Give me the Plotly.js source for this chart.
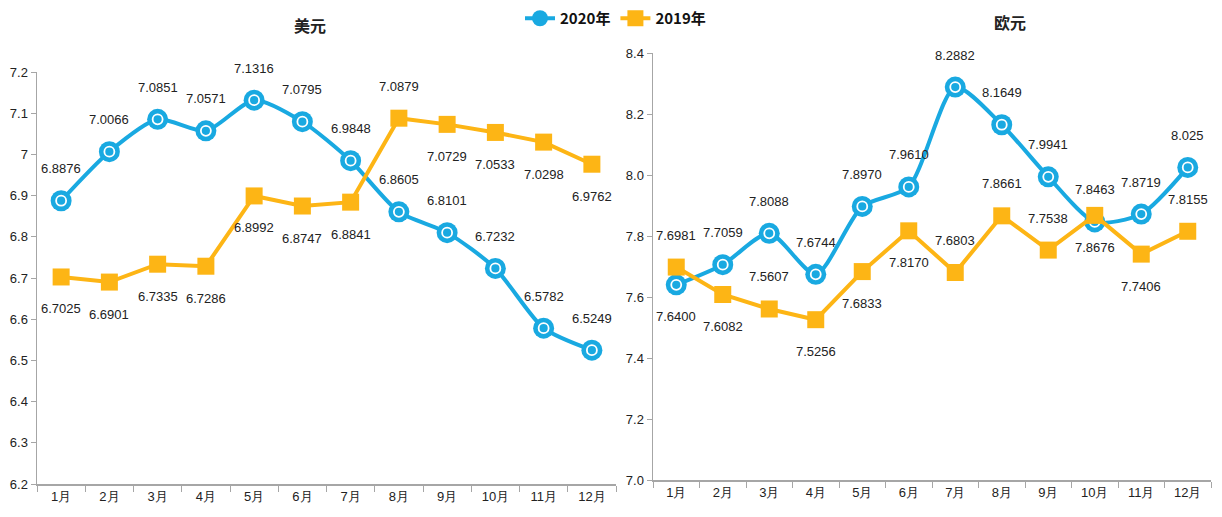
<!DOCTYPE html>
<html><head><meta charset="utf-8">
<script src="https://cdn.plot.ly/plotly-3.0.1.min.js"></script>
<style>html,body{margin:0;padding:0;background:#fff}#c{width:1222px;height:517px}</style>
</head><body><div id="c"></div>
<script>
const months = ['1月','2月','3月','4月','5月','6月','7月','8月','9月','10月','11月','12月'];
const usd2020 = [6.8876,7.0066,7.0851,7.0571,7.1316,7.0795,6.9848,6.8605,6.8101,6.7232,6.5782,6.5249];
const usd2019 = [6.7025,6.6901,6.7335,6.7286,6.8992,6.8747,6.8841,7.0879,7.0729,7.0533,7.0298,6.9762];
const eur2020 = [7.6400,7.7059,7.8088,7.6744,7.8970,7.9610,8.2882,8.1649,7.9941,7.8463,7.8719,8.025];
const eur2019 = [7.6981,7.6082,7.5607,7.5256,7.6833,7.8170,7.6803,7.8661,7.7538,7.8676,7.7406,7.8155];
const usd2020Labels = ['6.8876','7.0066','7.0851','7.0571','7.1316','7.0795','6.9848','6.8605','6.8101','6.7232','6.5782','6.5249'];
const usd2019Labels = ['6.7025','6.6901','6.7335','6.7286','6.8992','6.8747','6.8841','7.0879','7.0729','7.0533','7.0298','6.9762'];
const eur2020Labels = ['7.6400','7.7059','7.8088','7.6744','7.8970','7.9610','8.2882','8.1649','7.9941','7.8463','7.8719','8.025'];
const eur2019Labels = ['7.6981','7.6082','7.5607','7.5256','7.6833','7.8170','7.6803','7.8661','7.7538','7.8676','7.7406','7.8155'];
// label side: 1 = above, -1 = below
const usd2020Side = [1,1,1,1,1,1,1,1,1,1,1,1];
const usd2019Side = [-1,-1,-1,-1,-1,-1,-1,1,-1,-1,-1,-1];
const eur2020Side = [-1,1,1,1,1,1,1,1,1,1,1,1];
const eur2019Side = [1,-1,1,-1,-1,-1,1,1,1,-1,-1,1];

const BLUE = '#19A9E1', ORANGE = '#FDB515';
const FONT = '"Liberation Sans",Arial,sans-serif';

function series(x, y, name, color, ax, isBlue, showLeg){
  const xa = ax===1?'x':'x2', ya = ax===1?'y':'y2';
  const out = [];
  if(isBlue){
    out.push({x:x,y:y,name:name,type:'scatter',mode:'lines+markers',xaxis:xa,yaxis:ya,
      line:{color:color,width:4,shape:'spline',smoothing:0.7},
      marker:{symbol:'circle',size:21,color:color},showlegend:showLeg,legendgroup:name,hoverinfo:'skip'});
    out.push({x:x,y:y,type:'scatter',mode:'markers',xaxis:xa,yaxis:ya,
      marker:{symbol:'circle-open',size:10,color:'#fff',line:{color:'#fff',width:1.8}},showlegend:false,legendgroup:name,hoverinfo:'skip'});
  } else {
    out.push({x:x,y:y,name:name,type:'scatter',mode:'lines+markers',xaxis:xa,yaxis:ya,
      line:{color:color,width:4},
      marker:{symbol:'square',size:17,color:color},showlegend:showLeg,legendgroup:name,hoverinfo:'skip'});
  }
  return out;
}

const data = [].concat(
  series(months, usd2020, '2020年', BLUE, 1, true, true),
  series(months, usd2019, '2019年', ORANGE, 1, false, true),
  series(months, eur2020, '2020年', BLUE, 2, true, false),
  series(months, eur2019, '2019年', ORANGE, 2, false, false)
);

const annotations = [];
function addLabels(x, y, labels, side, ax){
  for(let i=0;i<x.length;i++){
    annotations.push({x:x[i], y:y[i], xref:ax===1?'x':'x2', yref:ax===1?'y':'y2',
      text:labels[i], showarrow:false, yshift: side[i]*32, xanchor:'center', yanchor:'middle',
      font:{family:FONT,size:13,color:'#222'}});
  }
}
addLabels(months, usd2020, usd2020Labels, usd2020Side, 1);
addLabels(months, usd2019, usd2019Labels, usd2019Side, 1);
addLabels(months, eur2020, eur2020Labels, eur2020Side, 2);
addLabels(months, eur2019, eur2019Labels, eur2019Side, 2);
annotations.push({xref:'paper',yref:'paper',x:310/1222,y:1-25/517,xanchor:'center',yanchor:'middle',text:'<b>美元</b>',showarrow:false,
  font:{family:'"Noto Sans CJK SC",sans-serif',size:16,color:'#222'}});
annotations.push({xref:'paper',yref:'paper',x:1010/1222,y:1-22/517,xanchor:'center',yanchor:'middle',text:'<b>欧元</b>',showarrow:false,
  font:{family:'"Noto Sans CJK SC",sans-serif',size:16,color:'#222'}});

const xaxisBase = {type:'category', tickson:'boundaries', ticks:'outside', ticklen:6, tickcolor:'#A6A6A6',
  showline:true, linecolor:'#A6A6A6', linewidth:1.5, showgrid:false, zeroline:false, range:[-0.5, 11.5],
  tickfont:{family:FONT,size:13,color:'#222'}, fixedrange:true};
const yaxisBase = {ticks:'outside', ticklen:5, tickcolor:'#A6A6A6', showline:true, linecolor:'#A6A6A6', linewidth:1.5,
  showgrid:false, zeroline:false, tickfont:{family:FONT,size:13,color:'#222'}, fixedrange:true};

const layout = {
  width:1222, height:517, margin:{l:0,r:0,t:0,b:0}, paper_bgcolor:'#fff', plot_bgcolor:'#fff',
  showlegend:true,
  legend:{orientation:'h', x:520/1222, y:1-2/517, xanchor:'left', yanchor:'top',
    font:{family:'"Noto Sans CJK SC",sans-serif',size:15,color:'#111',weight:'bold'}, itemwidth:30, tracegroupgap:0,bgcolor:'rgba(0,0,0,0)'},
  xaxis: Object.assign({}, xaxisBase, {domain:[37/1222, 616/1222], anchor:'y'}),
  yaxis: Object.assign({}, yaxisBase, {domain:[1-484/517, 1-72/517], range:[6.2,7.2], dtick:0.1, anchor:'x'}),
  xaxis2: Object.assign({}, xaxisBase, {domain:[653/1222, 1211/1222], anchor:'y2'}),
  yaxis2: Object.assign({}, yaxisBase, {domain:[1-480/517, 1-53/517], range:[7.0,8.4], dtick:0.2, tickformat:'.1f', anchor:'x2'}),
  annotations: annotations
};
Plotly.newPlot('c', data, layout, {displayModeBar:false, staticPlot:true});
</script>
</body></html>
